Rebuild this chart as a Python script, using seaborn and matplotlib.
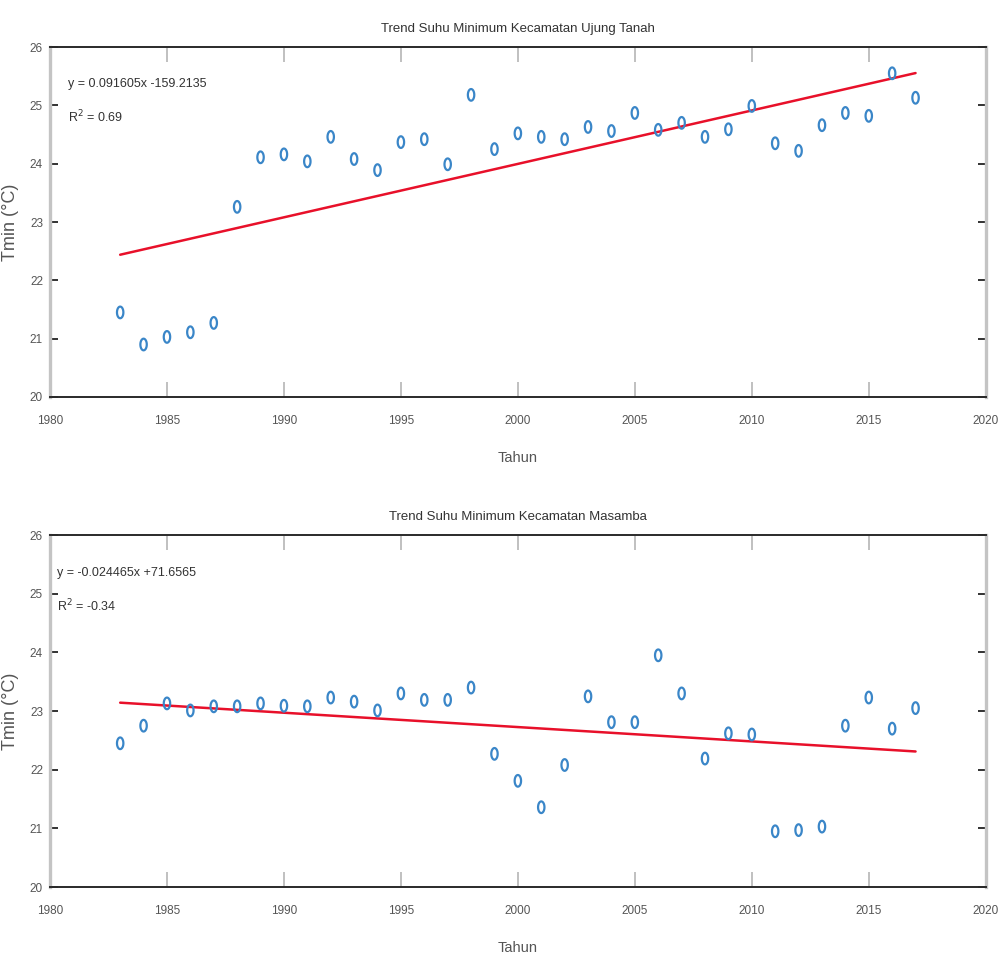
import numpy as np
import pandas as pd
import matplotlib
matplotlib.use("Agg")
import matplotlib.pyplot as plt
from matplotlib.path import Path
from matplotlib import font_manager
import seaborn as sns

# ---- data ---------------------------------------------------------------
years = list(range(1983, 2018))

tmin_ujung_tanah = [
    21.45, 20.90, 21.03, 21.11, 21.27, 23.26, 24.11, 24.16, 24.04, 24.46,
    24.08, 23.89, 24.37, 24.42, 23.99, 25.18, 24.25, 24.52, 24.46, 24.42,
    24.63, 24.56, 24.87, 24.58, 24.70, 24.46, 24.59, 24.99, 24.35, 24.22,
    24.66, 24.87, 24.82, 25.55, 25.13,
]

tmin_masamba = [
    22.45, 22.75, 23.13, 23.01, 23.08, 23.08, 23.13, 23.09, 23.08, 23.23,
    23.16, 23.01, 23.30, 23.19, 23.19, 23.40, 22.27, 21.81, 21.36, 22.08,
    23.25, 22.81, 22.81, 23.95, 23.30, 22.19, 22.62, 22.60, 20.95, 20.97,
    21.03, 22.75, 23.23, 22.70, 23.05,
]

titles = [
    "Trend Suhu Minimum Kecamatan Ujung Tanah",
    "Trend Suhu Minimum Kecamatan Masamba",
]
slopes = [0.091605, -0.024465]
intercepts = [-159.2135, 71.6565]
r2_values = ["0.69", "-0.34"]
equations = ["y = 0.091605x -159.2135", "y = -0.024465x +71.6565"]

x_ticks = [1980, 1985, 1990, 1995, 2000, 2005, 2010, 2015, 2020]
y_ticks = [20, 21, 22, 23, 24, 25, 26]

# ---- style --------------------------------------------------------------
sns.set_theme(style="white")
installed = {f.name for f in font_manager.fontManager.ttflist}
families = [f for f in ["Liberation Sans Narrow", "Liberation Sans", "DejaVu Sans"]
            if f in installed] or ["DejaVu Sans"]
plt.rcParams["font.family"] = families

marker_blue = "#3a86c8"
trend_red = "#e8102a"

# tall open ellipse marker
theta = np.linspace(0, 2 * np.pi, 60)
ellipse = Path(np.column_stack([0.55 * np.cos(theta), np.sin(theta)]), closed=True)

fig = plt.figure(figsize=(10.04, 9.58), dpi=100)
ax_top = fig.add_axes([0.0498, 0.5856, 0.932, 0.3653])
ax_bot = fig.add_axes([0.0498, 0.0741, 0.932, 0.3674])

series = [tmin_ujung_tanah, tmin_masamba]
eq_pos = [(0.019, 0.895), (0.008, 0.892)]

for ax, values, title, m, b, r2, eq, (tx, ty) in zip(
        [ax_top, ax_bot], series, titles, slopes, intercepts, r2_values,
        equations, eq_pos):
    df = pd.DataFrame({"Tahun": years, "Tmin": values})
    df["Trend"] = m * df["Tahun"] + b

    sns.scatterplot(data=df, x="Tahun", y="Tmin", ax=ax, marker=ellipse,
                    s=70, facecolor="none", edgecolor=marker_blue,
                    linewidth=1.6, zorder=3)
    sns.lineplot(data=df, x="Tahun", y="Trend", ax=ax, color=trend_red,
                 linewidth=1.8, zorder=2)

    ax.set_xlim(1980, 2020)
    ax.set_ylim(20, 26)
    ax.set_xticks(x_ticks)
    ax.set_yticks(y_ticks)
    ax.set_xticklabels([str(t) for t in x_ticks])
    ax.set_yticklabels([str(t) for t in y_ticks])

    ax.tick_params(axis="x", direction="in", length=11, width=1.2,
                   color="#b5b5b5", top=True, bottom=True,
                   labelsize=8.5, labelcolor="#555555", pad=13)
    ax.tick_params(axis="y", direction="in", length=6, width=1.3,
                   color="#222222", left=True, right=True,
                   labelsize=8.5, labelcolor="#555555", pad=5)

    for side in ["top", "bottom"]:
        ax.spines[side].set_color("#2a2a2a")
        ax.spines[side].set_linewidth(1.4)
    for side in ["left", "right"]:
        ax.spines[side].set_color("#c4c4c4")
        ax.spines[side].set_linewidth(2.4)

    ax.set_title(title, fontsize=9.5, color="#333333", pad=11)
    ax.set_xlabel("Tahun", fontsize=10.5, color="#555555", labelpad=17)
    ax.set_ylabel("Tmin (\u00b0C)", fontsize=13, color="#555555", labelpad=8)

    ax.text(tx, ty, eq, transform=ax.transAxes, fontsize=9,
            color="#333333", va="center", ha="left")
    ax.text(tx, ty - 0.095, "R$^{2}$ = " + r2, transform=ax.transAxes,
            fontsize=9, color="#333333", va="center", ha="left")

fig.savefig("out.png", dpi=100, facecolor="white")
